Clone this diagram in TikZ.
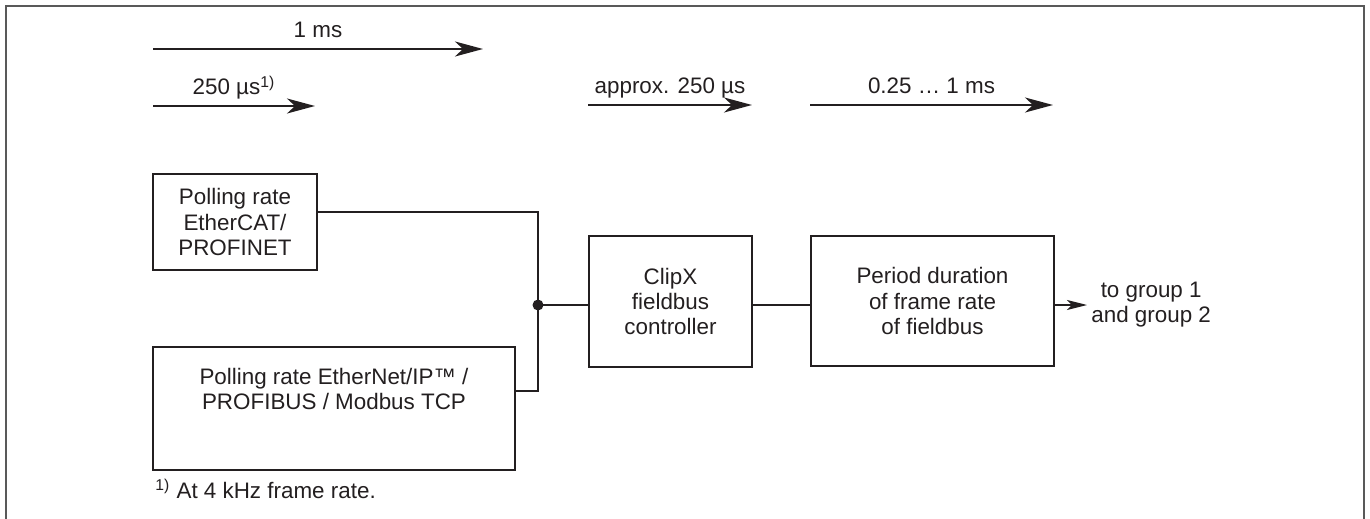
\documentclass[tikz,border=0pt]{standalone}
\usepackage{fontspec}
\setmainfont{Liberation Sans}
\usepackage{tikz}
\usetikzlibrary{arrows.meta,positioning}
\definecolor{ink}{HTML}{231F20}
\tikzstyle{block}=[draw=ink, line width=1.1pt, inner sep=0pt]
\tikzstyle{wire}=[draw=ink, line width=0.75pt]
\tikzstyle{timeline}=[draw=ink, line width=1pt, -{Stealth[length=14pt,width=7.5pt,inset=4pt]}]
\tikzstyle{lbl}=[midway, anchor=base, yshift=5.5pt, inner sep=0pt]
\newcommand{\tspan}[5]{
 \coordinate (#1a) at (#2,#4);
 \coordinate (#1b) at (#3,#4);
 \draw[timeline] (#1a) -- node[lbl] {#5} (#1b);
}
\begin{document}
\begin{tikzpicture}[x=0.5pt, y=-0.5pt, font=\fontsize{11.2pt}{12.6pt}\selectfont, every node/.style={align=center, text=ink}]
 \useasboundingbox (0,0) rectangle (1370,519);
 \clip (0,0) rectangle (1370,519);
 \draw[black!65, line width=1pt] (6,6) rectangle (1364,560);
%
 \tspan{ms}{153}{483}{49}{1 ms}
 \tspan{us}{153}{315}{106}{250 µs\textsuperscript{1)}}
 \tspan{ctl}{588}{752}{105}{approx. 250 µs}
 \tspan{bus}{810}{1053}{105}{0.25 … 1 ms}
%
 \node[block, minimum width=82pt, minimum height=48pt] (ecat) at (235,222) {Polling rate\\EtherCAT/\\PROFINET};
 \node[block, minimum width=181pt, minimum height=61.5pt] (eip) at (334,408.5) {};
 \node (eiptext) at (334,389) {Polling rate EtherNet/IP™ /\\PROFIBUS / Modbus TCP};
 \node[block, minimum width=81.5pt, minimum height=65.5pt] (ctrl) at (670.5,301.5) {ClipX\\fieldbus\\controller};
 \node[block, minimum width=121.5pt, minimum height=65pt] (frame) at (932.5,301) {Period duration\\of frame rate\\of fieldbus};
 \node[anchor=west, inner sep=2pt] (dest) at (1087,305) {to group 1\\and group 2};
%
 \coordinate (junc) at (538,305);
 \draw[wire] ([yshift=5pt]ecat.east) -| (junc);
 \draw[wire] ([yshift=8.75pt]eip.east) -| (junc);
 \fill[ink] (junc) circle (2.75pt);
 \draw[wire] (junc) -- (junc -| ctrl.west);
 \draw[wire] (ctrl.east |- junc) -- (frame.west |- junc);
 \draw[wire, -{Stealth[length=10pt,width=5pt,inset=2.5pt]}] (frame.east |- junc) -- (dest.west);
%
 \node[anchor=base west, inner sep=0pt] (note) at (155,498) {\textsuperscript{1)} At 4 kHz frame rate.};
\end{tikzpicture}
\end{document}
